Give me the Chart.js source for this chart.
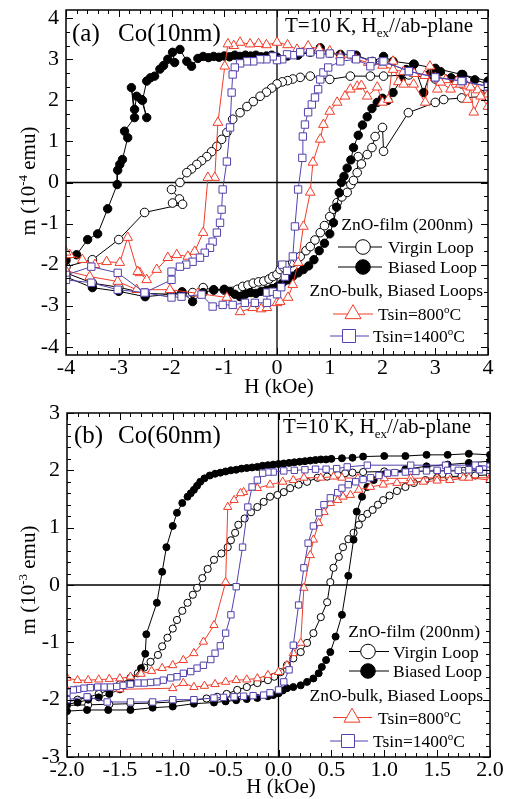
<!DOCTYPE html>
<html><head><meta charset="utf-8">
<script src="https://cdn.jsdelivr.net/npm/chart.js@4.4.1/dist/chart.umd.min.js"></script>
<style>
html,body{margin:0;padding:0;background:#fff;}
.w{position:absolute;left:0;width:508px;}
</style>
</head><body>
<div class="w" style="top:0;height:400px"><canvas id="ca" width="508" height="400"></canvas></div>
<div class="w" style="top:400px;height:399px"><canvas id="cb" width="508" height="399"></canvas></div>
<script>
// ---------------- DATA (H in kOe, m in 10^-4 emu for (a), 10^-3 emu for (b)) ----------------
const seriesLabels = ["Virgin Loop", "Biased Loop", "Tsin=800\u00b0C", "Tsin=1400\u00b0C"];

const a_xTicks = [-4, -3, -2, -1, 0, 1, 2, 3, 4];
const a_yTicks = [-4, -3, -2, -1, 0, 1, 2, 3, 4];
const b_xTicks = [-2.0, -1.5, -1.0, -0.5, 0.0, 0.5, 1.0, 1.5, 2.0];
const b_yTicks = [-3, -2, -1, 0, 1, 2, 3];

// Panel (a) Co(10nm)
const a_biased_down = [[4.0,2.47],[3.5,2.63],[3.0,2.78],[2.6,2.88],[2.2,2.95],[2.02,3.07],[1.81,2.95],[1.5,3.1],[1.2,3.12],[1.0,3.15],[0.82,3.28],[0.63,3.17],[0.4,3.1],[0.2,3.08],[0.0,3.05],[-0.1,3.1],[-0.2,3.08],[-0.3,3.06],[-0.4,3.1],[-0.5,3.08],[-0.6,3.1],[-0.7,3.07],[-0.8,3.1],[-0.9,3.06],[-1.0,3.08],[-1.1,3.05],[-1.2,3.07],[-1.3,3.04],[-1.4,3.07],[-1.5,3.02],[-1.62,2.83],[-1.71,2.95],[-1.84,3.24],[-1.98,3.17],[-1.94,2.92],[-2.07,3.0],[-2.15,2.85],[-2.22,2.76],[-2.32,2.59],[-2.4,2.55],[-2.47,2.47],[-2.55,2.0],[-2.47,1.58],[-2.57,2.02],[-2.66,2.1],[-2.7,1.78],[-2.76,2.31],[-2.7,1.58],[-2.89,1.25],[-2.83,1.09],[-2.93,0.56],[-2.98,0.44],[-3.02,0.3],[-3.03,-0.05],[-3.21,-0.64],[-3.4,-1.25],[-3.59,-1.39],[-3.8,-1.76],[-4.0,-1.9]];
const a_biased_up = [[-4.0,-2.3],[-3.5,-2.56],[-3.0,-2.65],[-2.5,-2.78],[-2.0,-2.72],[-1.8,-2.66],[-1.6,-2.9],[-1.4,-2.68],[-1.2,-2.61],[-1.0,-2.6],[-0.9,-2.65],[-0.8,-2.72],[-0.7,-2.78],[-0.6,-2.72],[-0.5,-2.68],[-0.4,-2.7],[-0.3,-2.65],[-0.2,-2.62],[-0.1,-2.58],[0.0,-2.54],[0.1,-2.45],[0.2,-2.37],[0.3,-2.28],[0.4,-2.2],[0.5,-2.12],[0.6,-2.03],[0.7,-1.88],[0.8,-1.66],[0.9,-1.48],[1.0,-1.25],[1.07,-0.98],[1.13,-0.6],[1.18,-0.25],[1.22,0.0],[1.27,0.15],[1.33,0.35],[1.4,0.55],[1.45,0.85],[1.54,1.15],[1.62,1.4],[1.71,1.6],[1.8,1.8],[1.9,1.95],[2.0,2.05],[2.1,2.0],[2.2,2.19],[2.35,2.5],[2.45,2.75],[2.59,2.88],[2.78,2.19],[2.9,2.65],[3.1,2.7],[3.3,2.55],[3.52,2.63],[3.75,2.5],[4.0,2.4]];

const a_virgin_down = [[4.0,2.2],[3.5,2.4],[3.0,2.52],[2.5,2.62],[2.02,2.59],[1.77,2.59],[1.39,2.59],[1.0,2.51],[0.63,2.59],[0.44,2.56],[0.3,2.52],[0.2,2.48],[0.1,2.45],[0.0,2.4],[-0.1,2.3],[-0.2,2.2],[-0.32,2.1],[-0.45,1.97],[-0.57,1.85],[-0.7,1.7],[-0.84,1.54],[-0.95,1.22],[-1.05,1.05],[-1.14,0.88],[-1.24,0.75],[-1.33,0.63],[-1.43,0.53],[-1.52,0.44],[-1.62,0.33],[-1.71,0.24],[-1.84,0.0],[-2.0,-0.17],[-1.85,-0.4],[-1.98,-0.5],[-1.79,-0.53],[-2.51,-0.73],[-3.0,-1.39],[-3.5,-1.88],[-4.0,-2.05]];
const a_virgin_up = [[-4.0,-2.2],[-3.5,-2.45],[-3.0,-2.55],[-2.5,-2.7],[-2.0,-2.72],[-1.8,-2.7],[-1.6,-2.68],[-1.4,-2.56],[-1.2,-2.62],[-1.0,-2.62],[-0.84,-2.65],[-0.75,-2.6],[-0.65,-2.53],[-0.55,-2.5],[-0.45,-2.45],[-0.35,-2.42],[-0.25,-2.4],[-0.15,-2.35],[-0.08,-2.29],[0.0,-2.24],[0.06,-2.12],[0.13,-2.07],[0.2,-2.02],[0.3,-1.95],[0.38,-1.87],[0.44,-1.8],[0.55,-1.66],[0.63,-1.56],[0.72,-1.4],[0.82,-1.22],[0.9,-1.05],[1.0,-0.83],[1.07,-0.65],[1.14,-0.49],[1.23,-0.35],[1.33,-0.24],[1.4,-0.05],[1.45,0.05],[1.52,0.24],[1.54,0.63],[1.6,0.45],[1.71,0.68],[1.8,0.85],[1.86,1.12],[2.0,1.34],[2.02,0.76],[2.49,1.7],[3.0,1.95],[3.16,2.02],[3.5,2.06],[4.0,2.1]];

const a_t800_down = [[4.0,2.15],[3.8,2.25],[3.6,2.35],[3.4,2.45],[3.2,2.5],[3.0,2.55],[2.8,2.6],[2.6,2.65],[2.4,2.7],[2.2,2.75],[2.0,2.85],[1.73,2.92],[1.5,3.0],[1.2,3.08],[1.0,3.2],[0.8,3.25],[0.59,3.32],[0.38,3.24],[0.2,3.35],[0.0,3.41],[-0.2,3.35],[-0.35,3.38],[-0.51,3.37],[-0.7,3.41],[-0.82,3.33],[-0.93,3.37],[-0.99,2.83],[-1.12,1.46],[-1.18,0.12],[-1.31,0.12],[-1.4,-1.22],[-1.56,-1.68],[-1.69,-1.8],[-1.9,-1.76],[-2.07,-1.83],[-2.28,-2.12],[-2.47,-2.37],[-2.6,-2.2],[-2.64,-2.17],[-2.83,-1.34],[-2.98,-1.95],[-3.23,-1.93],[-3.45,-2.0],[-3.69,-1.88],[-3.93,-1.76],[-4.0,-1.7]];
const a_t800_up = [[-4.0,-2.15],[-3.55,-2.29],[-3.02,-2.41],[-2.66,-2.61],[-2.03,-2.61],[-1.5,-2.7],[-0.95,-2.8],[-0.7,-3.15],[-0.46,-3.05],[-0.3,-3.08],[-0.19,-3.05],[0.0,-2.93],[0.06,-2.9],[0.21,-2.8],[0.3,-2.49],[0.4,-1.95],[0.5,-1.07],[0.63,-0.24],[0.68,0.49],[0.82,1.05],[0.88,1.41],[1.0,1.73],[1.14,1.95],[1.29,2.1],[1.39,2.27],[1.52,2.34],[1.6,2.36],[1.71,2.1],[1.9,2.32],[2.0,1.95],[2.11,2.02],[2.2,2.95],[2.3,2.45],[2.4,2.39],[2.59,2.39],[2.81,1.95],[2.9,2.83],[3.04,2.27],[3.1,2.44],[3.29,2.27],[3.48,2.39],[3.61,2.02],[3.67,2.32],[3.73,1.71],[3.86,2.1],[4.0,1.85]];

const a_t1400_down = [[4.0,2.34],[3.52,2.47],[3.0,2.56],[2.5,2.71],[2.0,2.95],[1.8,2.95],[1.4,3.12],[1.0,3.14],[0.82,3.12],[0.63,3.17],[0.44,3.17],[0.3,3.1],[0.19,3.12],[0.1,3.0],[0.0,2.98],[-0.08,3.07],[-0.2,3.0],[-0.32,3.0],[-0.45,2.95],[-0.57,2.95],[-0.7,2.9],[-0.8,2.8],[-0.84,2.63],[-0.86,2.19],[-0.89,1.34],[-0.95,0.51],[-1.03,-0.17],[-1.05,-0.66],[-1.08,-0.98],[-1.14,-1.22],[-1.22,-1.44],[-1.27,-1.59],[-1.37,-1.71],[-1.46,-1.83],[-1.6,-1.93],[-1.72,-2.0],[-1.84,-2.05],[-2.0,-2.17],[-2.0,-2.37],[-2.51,-2.68],[-3.02,-2.2],[-3.52,-2.05],[-4.0,-2.25]];
const a_t1400_up = [[-4.0,-2.37],[-3.52,-2.44],[-3.02,-2.61],[-2.51,-2.68],[-2.0,-2.8],[-1.81,-2.78],[-1.43,-2.73],[-1.22,-3.02],[-1.03,-2.98],[-0.84,-2.98],[-0.61,-2.93],[-0.42,-2.93],[-0.19,-2.93],[-0.19,-2.68],[-0.08,-2.66],[0.0,-2.72],[0.08,-2.55],[0.15,-2.29],[0.1,-2.0],[0.19,-2.15],[0.3,-1.8],[0.34,-1.07],[0.4,-0.17],[0.48,0.6],[0.49,1.12],[0.53,1.41],[0.59,1.71],[0.66,1.9],[0.72,2.07],[0.78,2.27],[0.82,2.51],[0.88,2.68],[0.97,2.8],[1.2,2.95],[1.5,3.0],[1.77,2.83],[2.02,2.95],[2.5,2.71],[3.0,2.56],[3.5,2.47],[4.0,2.34]];

// Panel (b) Co(60nm)
const b_biased_down = [[2.0,2.27],[1.8,2.29],[1.6,2.27],[1.4,2.27],[1.2,2.25],[1.0,2.25],[0.8,2.24],[0.7,2.22],[0.6,2.21],[0.5,2.2],[0.45,2.19],[0.4,2.19],[0.35,2.18],[0.3,2.17],[0.25,2.16],[0.2,2.15],[0.15,2.14],[0.1,2.13],[0.05,2.12],[0.0,2.11],[-0.05,2.1],[-0.1,2.09],[-0.15,2.08],[-0.2,2.06],[-0.25,2.05],[-0.3,2.04],[-0.35,2.03],[-0.4,2.01],[-0.45,2.0],[-0.5,1.98],[-0.55,1.96],[-0.6,1.94],[-0.65,1.91],[-0.7,1.86],[-0.74,1.8],[-0.77,1.73],[-0.8,1.66],[-0.83,1.6],[-0.86,1.54],[-0.91,1.43],[-0.96,1.26],[-1.0,1.03],[-1.06,0.66],[-1.1,0.23],[-1.15,-0.31],[-1.25,-0.86],[-1.26,-1.2],[-1.3,-1.45],[-1.4,-1.69],[-1.5,-1.82],[-1.6,-1.9],[-1.7,-1.96],[-1.8,-2.0],[-1.9,-2.05],[-2.0,-2.08]];
const b_biased_up = [[-2.0,-2.2],[-1.81,-2.18],[-1.61,-2.18],[-1.4,-2.18],[-1.19,-2.14],[-1.0,-2.12],[-0.8,-2.07],[-0.61,-2.05],[-0.5,-2.03],[-0.4,-2.01],[-0.3,-1.99],[-0.2,-1.97],[-0.1,-1.94],[-0.05,-1.92],[0.0,-1.89],[0.04,-1.84],[0.08,-1.8],[0.14,-1.78],[0.21,-1.75],[0.27,-1.69],[0.33,-1.63],[0.38,-1.54],[0.41,-1.43],[0.45,-1.31],[0.49,-1.17],[0.54,-0.9],[0.6,-0.52],[0.66,0.16],[0.71,0.79],[0.74,1.28],[0.79,1.54],[0.84,1.71],[0.9,1.83],[1.0,1.93],[1.2,2.02],[1.4,2.07],[1.6,2.1],[1.8,2.13],[2.0,2.16]];

const b_virgin_down = [[2.0,2.0],[1.75,1.99],[1.5,1.99],[1.25,1.98],[1.0,1.98],[0.8,1.97],[0.7,1.96],[0.63,1.95],[0.56,1.92],[0.46,1.89],[0.37,1.87],[0.27,1.8],[0.19,1.75],[0.11,1.69],[0.05,1.62],[-0.01,1.57],[-0.08,1.54],[-0.14,1.45],[-0.2,1.36],[-0.26,1.27],[-0.32,1.16],[-0.38,1.05],[-0.41,0.91],[-0.45,0.78],[-0.48,0.66],[-0.54,0.55],[-0.61,0.44],[-0.67,0.28],[-0.72,0.12],[-0.77,-0.05],[-0.81,-0.17],[-0.86,-0.31],[-0.91,-0.45],[-0.96,-0.61],[-1.0,-0.76],[-1.05,-0.92],[-1.1,-1.07],[-1.14,-1.22],[-1.21,-1.34],[-1.27,-1.44],[-1.33,-1.54],[-1.4,-1.62],[-1.5,-1.73],[-1.6,-1.83],[-1.7,-1.9],[-1.8,-1.96],[-1.9,-2.0],[-2.0,-2.04]];
const b_virgin_up = [[-2.0,-2.1],[-1.8,-2.09],[-1.6,-2.08],[-1.4,-2.07],[-1.2,-2.06],[-1.0,-2.04],[-0.8,-2.01],[-0.68,-1.98],[-0.58,-1.95],[-0.49,-1.9],[-0.39,-1.83],[-0.3,-1.78],[-0.2,-1.71],[-0.1,-1.66],[-0.04,-1.6],[0.02,-1.52],[0.08,-1.4],[0.14,-1.28],[0.21,-1.17],[0.27,-1.01],[0.33,-0.84],[0.4,-0.56],[0.46,-0.3],[0.49,0.05],[0.52,0.3],[0.57,0.49],[0.61,0.66],[0.66,0.8],[0.71,0.91],[0.76,1.05],[0.79,1.17],[0.84,1.24],[0.89,1.31],[0.94,1.4],[0.99,1.48],[1.05,1.56],[1.12,1.64],[1.2,1.71],[1.28,1.78],[1.39,1.83],[1.5,1.87],[1.61,1.89],[1.73,1.9],[1.86,1.91],[2.0,1.92]];

const b_t800_down = [[2.0,1.87],[1.75,1.87],[1.5,1.87],[1.25,1.86],[1.0,1.86],[0.75,1.86],[0.6,1.87],[0.52,1.89],[0.4,1.87],[0.24,1.87],[0.14,1.83],[0.04,1.8],[-0.08,1.75],[-0.2,1.69],[-0.33,1.62],[-0.36,1.6],[-0.42,1.48],[-0.48,1.36],[-0.5,0.05],[-0.61,-0.7],[-0.71,-0.99],[-0.8,-1.19],[-0.9,-1.31],[-1.0,-1.4],[-1.1,-1.45],[-1.2,-1.5],[-1.3,-1.55],[-1.4,-1.6],[-1.5,-1.63],[-1.6,-1.64],[-1.7,-1.65],[-1.8,-1.66],[-1.9,-1.66],[-2.0,-1.62]];
const b_t800_up = [[-2.0,-1.83],[-1.5,-1.82],[-1.0,-1.8],[-0.9,-1.71],[-0.8,-1.78],[-0.7,-1.76],[-0.6,-1.73],[-0.5,-1.69],[-0.4,-1.66],[-0.3,-1.65],[-0.2,-1.63],[-0.1,-1.57],[0.0,-1.52],[0.08,-1.4],[0.14,-1.19],[0.21,-1.01],[0.24,-0.05],[0.3,0.52],[0.33,0.79],[0.38,1.08],[0.43,1.27],[0.49,1.43],[0.56,1.48],[0.61,1.54],[0.68,1.57],[0.76,1.66],[0.87,1.71],[0.99,1.75],[1.12,1.78],[1.25,1.79],[1.37,1.8],[1.5,1.82],[1.62,1.83],[1.8,1.87],[2.0,1.83]];

const b_t1400_down = [[2.0,2.07],[1.86,2.09],[1.58,2.09],[1.25,2.09],[0.84,2.09],[0.65,2.06],[0.55,2.03],[0.45,2.02],[0.35,2.02],[0.25,2.01],[0.15,2.0],[0.05,1.99],[-0.05,1.97],[-0.1,1.97],[-0.15,1.95],[-0.2,1.83],[-0.25,1.71],[-0.29,1.36],[-0.34,0.66],[-0.4,-0.03],[-0.45,-0.52],[-0.5,-0.84],[-0.55,-1.06],[-0.6,-1.19],[-0.64,-1.3],[-0.71,-1.4],[-0.77,-1.45],[-0.83,-1.51],[-0.9,-1.54],[-0.96,-1.6],[-1.02,-1.62],[-1.09,-1.66],[-1.15,-1.69],[-1.21,-1.7],[-1.27,-1.71],[-1.33,-1.71],[-1.4,-1.73],[-1.47,-1.75],[-1.53,-1.77],[-1.59,-1.78],[-1.65,-1.78],[-1.71,-1.78],[-1.78,-1.79],[-1.84,-1.8],[-1.9,-1.82],[-1.94,-1.83],[-2.0,-1.87]];
const b_t1400_up = [[-2.0,-2.0],[-1.81,-1.95],[-1.62,-2.04],[-1.4,-2.04],[-1.19,-2.04],[-1.0,-2.0],[-0.8,-2.0],[-0.61,-1.97],[-0.52,-1.96],[-0.42,-1.95],[-0.33,-1.94],[-0.24,-1.93],[-0.14,-1.92],[-0.08,-1.88],[0.0,-1.83],[0.05,-1.69],[0.1,-1.48],[0.14,-1.05],[0.19,-0.35],[0.24,0.3],[0.28,0.73],[0.33,1.03],[0.38,1.26],[0.43,1.4],[0.49,1.52],[0.56,1.61],[0.6,1.69],[0.66,1.75],[0.73,1.8],[0.8,1.84],[0.87,1.87],[0.95,1.91],[1.03,1.95],[1.1,1.96],[1.2,1.97],[1.3,1.98],[1.4,1.99],[1.5,2.0],[1.6,2.0],[1.7,2.0],[1.8,2.01],[1.9,2.01],[2.0,2.0]];

// ---------------- RENDERING ----------------
const FONT = "'Liberation Serif','Times New Roman',Times,serif";
const RED = '#f03c28', BLUE = '#5242ad', BLACK = '#000';

function pts(down, up) { return down.concat(up).map(p => ({x: p[0], y: p[1]})); }

function rich(ctx, parts, x, y, align) {
  let w = 0;
  for (const p of parts) { ctx.font = p[1] + 'px ' + FONT; w += ctx.measureText(p[0]).width; }
  let cx = align === 'right' ? x - w : (align === 'center' ? x - w / 2 : x);
  for (const p of parts) {
    ctx.font = p[1] + 'px ' + FONT;
    ctx.fillText(p[0], cx, y + (p[2] || 0));
    cx += ctx.measureText(p[0]).width;
  }
}

function marker(ctx, style, x, y, r, fill, stroke) {
  ctx.beginPath();
  if (style === 'circle') ctx.arc(x, y, r, 0, Math.PI * 2);
  else if (style === 'triangle') {
    ctx.moveTo(x, y - r); ctx.lineTo(x + r * 0.866, y + r * 0.5); ctx.lineTo(x - r * 0.866, y + r * 0.5); ctx.closePath();
  } else { const s = r * Math.SQRT1_2; ctx.rect(x - s, y - s, 2 * s, 2 * s); }
  ctx.fillStyle = fill; ctx.fill();
  ctx.strokeStyle = stroke; ctx.lineWidth = 1; ctx.stroke();
}

function makeDeco(P) {
  return {
    id: 'deco_' + P.id,
    beforeDatasetsDraw(chart) {
      const {ctx, chartArea: a, scales: {x, y}} = chart;
      ctx.save(); ctx.strokeStyle = '#000'; ctx.lineWidth = 1.3;
      const x0 = x.getPixelForValue(0), y0 = y.getPixelForValue(0);
      ctx.beginPath();
      ctx.moveTo(a.left, y0); ctx.lineTo(a.right, y0);
      ctx.moveTo(x0, a.top); ctx.lineTo(x0, a.bottom);
      ctx.stroke(); ctx.restore();
    },
    afterDatasetsDraw(chart) {
      const {ctx, chartArea: a, scales: {x, y}} = chart;
      ctx.save(); ctx.strokeStyle = '#000'; ctx.lineWidth = 1;
      ctx.beginPath();
      const xmin = P.xTicks[0], xmax = P.xTicks[P.xTicks.length - 1];
      const nx = Math.round((xmax - xmin) / P.xMinor);
      for (let i = 0; i <= nx; i++) {
        const v = xmin + i * P.xMinor;
        const major = P.xTicks.some(t => Math.abs(t - v) < 1e-6);
        const L = major ? 7 : 4;
        const px = Math.round(x.getPixelForValue(v)) + 0.5;
        ctx.moveTo(px, a.bottom); ctx.lineTo(px, a.bottom - L);
        ctx.moveTo(px, a.top); ctx.lineTo(px, a.top + L);
      }
      const ymin = P.yTicks[0], ymax = P.yTicks[P.yTicks.length - 1];
      const ny = Math.round((ymax - ymin) / P.yMinor);
      for (let i = 0; i <= ny; i++) {
        const v = ymin + i * P.yMinor;
        const major = P.yTicks.some(t => Math.abs(t - v) < 1e-6);
        const L = major ? 7 : 4;
        const py = Math.round(y.getPixelForValue(v)) + 0.5;
        ctx.moveTo(a.left, py); ctx.lineTo(a.left + L, py);
        ctx.moveTo(a.right, py); ctx.lineTo(a.right - L, py);
      }
      ctx.stroke();
      ctx.lineWidth = 1.5;
      ctx.strokeRect(a.left, a.top, a.right - a.left, a.bottom - a.top);
      ctx.restore();
    },
    afterDraw(chart) {
      const ctx = chart.ctx;
      ctx.save();
      ctx.fillStyle = '#000'; ctx.textBaseline = 'alphabetic'; ctx.textAlign = 'left';
      const T = P.text;
      rich(ctx, [[P.tag, 25]], T.tagX, T.tagY, 'left');
      rich(ctx, [[P.title, 25]], T.titleX, T.tagY, 'left');
      rich(ctx, [['T=10 K, H', 21], ['ex', 13, 5], ['//ab-plane', 21]], T.condX, T.condY, 'left');
      // legend
      const L = T.leg;
      rich(ctx, [['ZnO-film (200nm)', 17.5]], L.right, L.y[0], 'right');
      rich(ctx, [['ZnO-bulk, Biased Loops', 17.5]], L.right2, L.y[3], 'right');
      const rows = [
        {i: 1, s: P.series[0]}, {i: 2, s: P.series[1]}, {i: 4, s: P.series[2]}, {i: 5, s: P.series[3]}
      ];
      rows.forEach((r, k) => {
        const cy = L.y[r.i] - 6;
        const sx = L.lx[k];
        ctx.beginPath(); ctx.strokeStyle = r.s.color; ctx.lineWidth = 1.2;
        ctx.moveTo(sx[0], cy); ctx.lineTo(sx[2], cy); ctx.stroke();
        marker(ctx, r.s.style, sx[1], cy, r.s.legR, r.s.fill, r.s.color);
        ctx.fillStyle = '#000';
        const lab = r.s.label;
        if (lab.indexOf('\u00b0') >= 0) {
          const parts = lab.split('\u00b0');
          rich(ctx, [[parts[0], 17.5], ['o', 11, -7], [parts[1], 17.5]], L.tx[k], L.y[r.i], 'left');
        } else rich(ctx, [[lab, 17.5]], L.tx[k], L.y[r.i], 'left');
      });
      // axis titles
      rich(ctx, [['H (kOe)', 21]], T.hx, T.hy, 'center');
      ctx.translate(T.mx, T.my); ctx.rotate(-Math.PI / 2);
      rich(ctx, [['m (10', 21], [P.exp, 13, -8], [' emu)', 21]], 0, 0, 'center');
      ctx.restore();
    }
  };
}

function noPad(sc) { sc.paddingTop = 0; sc.paddingBottom = 0; sc.paddingLeft = 0; sc.paddingRight = 0; }

function makeChart(canvasId, P) {
  const datasets = P.series.map(s => ({
    label: s.label,
    data: s.data,
    showLine: true,
    borderColor: s.color,
    borderWidth: 1,
    pointStyle: s.style,
    pointRadius: s.r,
    pointHoverRadius: s.r,
    pointBackgroundColor: s.fill,
    pointBorderColor: s.color,
    pointBorderWidth: 1,
    order: s.order
  }));
  new Chart(document.getElementById(canvasId), {
    type: 'scatter',
    data: {datasets},
    options: {
      responsive: false, animation: false, devicePixelRatio: 1,
      events: [],
      layout: {padding: {left: 0, top: P.padTop, right: P.padRight, bottom: 0}},
      plugins: {legend: {display: false}, tooltip: {enabled: false}},
      scales: {
        x: {
          type: 'linear', min: P.xMin, max: P.xMax,
          afterBuildTicks: sc => { sc.ticks = P.xTicks.map(v => ({value: v})); },
          afterFit: sc => { sc.height = P.xAxisH; noPad(sc); },
          grid: {display: false, drawTicks: false},
          border: {display: false},
          ticks: {font: {family: FONT, size: 22}, color: '#000', padding: 0, autoSkip: false, maxRotation: 0,
                  callback: P.xFmt}
        },
        y: {
          type: 'linear', min: P.yMin, max: P.yMax,
          afterBuildTicks: sc => { sc.ticks = P.yTicks.map(v => ({value: v})); },
          afterFit: sc => { sc.width = P.yAxisW; noPad(sc); },
          grid: {display: false, drawTicks: false},
          border: {display: false},
          ticks: {font: {family: FONT, size: 22}, color: '#000', padding: 7, autoSkip: false,
                  callback: v => String(v)}
        }
      }
    },
    plugins: [makeDeco(P)]
  });
}

// Panel (a)
makeChart('ca', {
  id: 'a', tag: '(a)', title: 'Co(10nm)', exp: '-4',
  xMin: -4, xMax: 4, yMin: -4.2, yMax: 4.2,
  xTicks: a_xTicks, yTicks: a_yTicks, xMinor: 0.2, yMinor: 1 / 3,
  xFmt: v => String(v),
  padTop: 10, padRight: 20, xAxisH: 45, yAxisW: 66,
  series: [
    {label: seriesLabels[0], data: pts(a_virgin_down, a_virgin_up), style: 'circle', r: 4.3, legR: 7.3, fill: '#fff', color: BLACK, order: 4},
    {label: seriesLabels[1], data: pts(a_biased_down, a_biased_up), style: 'circle', r: 4.2, legR: 7.3, fill: '#000', color: BLACK, order: 3},
    {label: seriesLabels[2], data: pts(a_t800_down, a_t800_up), style: 'triangle', r: 5.6, legR: 9.3, fill: '#fff', color: RED, order: 2},
    {label: seriesLabels[3], data: pts(a_t1400_down, a_t1400_up), style: 'rect', r: 5.2, legR: 9.2, fill: '#fff', color: BLUE, order: 1}
  ],
  text: {
    tagX: 72, tagY: 41, titleX: 118, condX: 285, condY: 32,
    hx: 279, hy: 393, mx: 35, my: 181,
    leg: {right: 473, right2: 483, y: [230, 253, 273, 296, 320, 342],
          lx: [[338, 363, 382], [338, 363, 382], [333, 353, 373], [330, 349, 369]],
          tx: [388, 388, 378, 373]}
  }
});

// Panel (b)
makeChart('cb', {
  id: 'b', tag: '(b)', title: 'Co(60nm)', exp: '-3',
  xMin: -2, xMax: 2, yMin: -3, yMax: 3,
  xTicks: b_xTicks, yTicks: b_yTicks, xMinor: 0.1, yMinor: 0.2,
  xFmt: v => Number(v).toFixed(1),
  padTop: 13, padRight: 18, xAxisH: 42, yAxisW: 67,
  series: [
    {label: seriesLabels[0], data: pts(b_virgin_down, b_virgin_up), style: 'circle', r: 3.6, legR: 7.3, fill: '#fff', color: BLACK, order: 4},
    {label: seriesLabels[1], data: pts(b_biased_down, b_biased_up), style: 'circle', r: 3.5, legR: 7.3, fill: '#000', color: BLACK, order: 3},
    {label: seriesLabels[2], data: pts(b_t800_down, b_t800_up), style: 'triangle', r: 4.8, legR: 9.3, fill: '#fff', color: RED, order: 2},
    {label: seriesLabels[3], data: pts(b_t1400_down, b_t1400_up), style: 'rect', r: 4.5, legR: 9.2, fill: '#fff', color: BLUE, order: 1}
  ],
  text: {
    tagX: 74, tagY: 43, titleX: 118, condX: 283, condY: 33,
    hx: 281, hy: 393, mx: 35, my: 180,
    leg: {right: 480, right2: 483, y: [237, 257.5, 277, 301, 323.5, 347],
          lx: [[349, 368, 389], [349, 368, 389], [333, 352, 372], [330, 348, 368]],
          tx: [393, 393, 378, 373]}
  }
});
</script>
</body></html>
